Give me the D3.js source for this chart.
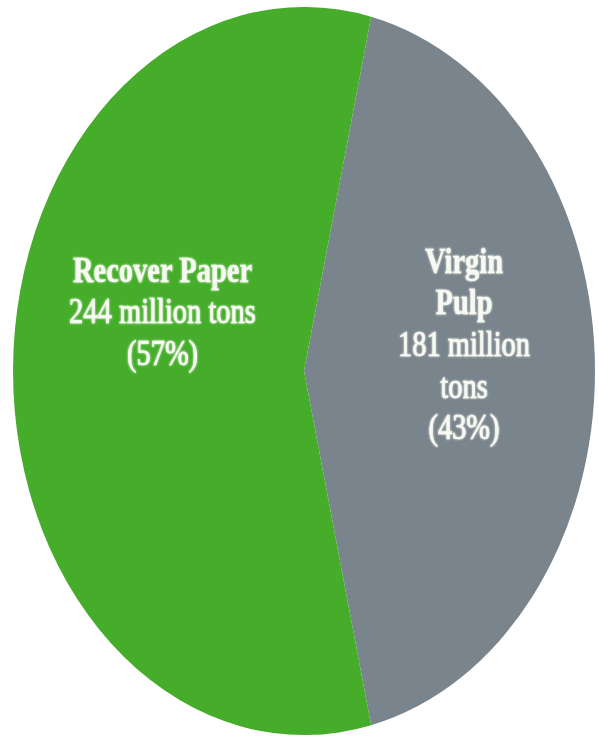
<!DOCTYPE html>
<html>
<head>
<meta charset="utf-8">
<script src="https://cdn.jsdelivr.net/npm/d3@7"></script>
<style>
  html, body { margin: 0; padding: 0; background: #ffffff; }
  svg { display: block; }
</style>
</head>
<body>
<svg id="chart" width="598" height="739"></svg>
<script>
// World fibre supply for paper making, million tons
const categories = ["Virgin Pulp", "Recover Paper"];
const values = [181, 244];
const nameLines = [["Virgin", "Pulp"], ["Recover Paper"]];
const unitWords = ["million", "tons"];
const wrapUnit = [true, false];
const colors = ["#7a848c", "#44ad2c"];

const W = 598, H = 739;
const cx = 304, cy = 371;
const rx = 291, ry = 364;
const stretch = ry / rx;

const svg = d3.select("#chart");
const defs = svg.append("defs");
defs.append("filter").attr("id", "soft")
  .append("feGaussianBlur").attr("stdDeviation", 0.6);
const halo = defs.append("filter").attr("id", "halo")
  .attr("x", "-10%").attr("y", "-30%").attr("width", "120%").attr("height", "160%");
halo.append("feGaussianBlur").attr("in", "SourceGraphic").attr("stdDeviation", 0.9).attr("result", "b");
const merge = halo.append("feMerge");
merge.append("feMergeNode").attr("in", "b");
merge.append("feMergeNode").attr("in", "SourceGraphic");

const total = d3.sum(values);
const data = categories.map((c, i) => ({ name: c, value: values[i], i }));

// first slice is centred on the right-hand side
const start = Math.PI / 2 - (values[0] / total) * Math.PI;
const pie = d3.pie().value(d => d.value).sort(null)
  .startAngle(start).endAngle(start + 2 * Math.PI);
const arcs = pie(data);
const arc = d3.arc().innerRadius(0).outerRadius(rx);

const g = svg.append("g")
  .attr("transform", `translate(${cx},${cy}) scale(1,${stretch})`);

g.append("g").attr("filter", "url(#soft)")
  .selectAll("path").data(arcs).join("path")
  .attr("d", arc)
  .attr("fill", d => colors[d.data.i]);

// label anchors (x, first baseline) in unstretched units
const labelPos = [[160, -78.6], [-141.5, -71.4]];
const lineH = 33.3;
const fmtPct = v => `(${Math.round(v / total * 100)}%)`;

const labels = g.append("g").attr("filter", "url(#halo)")
  .attr("font-family", "'Liberation Serif', 'Times New Roman', serif")
  .attr("font-size", 28.5)
  .attr("fill", "#f7faf2")
  .attr("stroke", "#f7faf2")
  .attr("text-anchor", "middle");

data.forEach((d, i) => {
  const lines = nameLines[i].map(t => ({ t, bold: true }));
  if (wrapUnit[i]) {
    lines.push({ t: `${d.value} ${unitWords[0]}`, bold: false });
    lines.push({ t: unitWords[1], bold: false });
  } else {
    lines.push({ t: `${d.value} ${unitWords.join(" ")}`, bold: false });
  }
  lines.push({ t: fmtPct(d.value), bold: false });
  const [lx, ly] = labelPos[i];
  labels.selectAll(null).data(lines).join("text")
    .attr("x", lx)
    .attr("y", (l, k) => ly + k * lineH)
    .attr("font-weight", l => l.bold ? 700 : 400)
    .attr("stroke-width", l => l.bold ? 0.2 : 0.5)
    .text(l => l.t);
});
</script>
</body>
</html>
